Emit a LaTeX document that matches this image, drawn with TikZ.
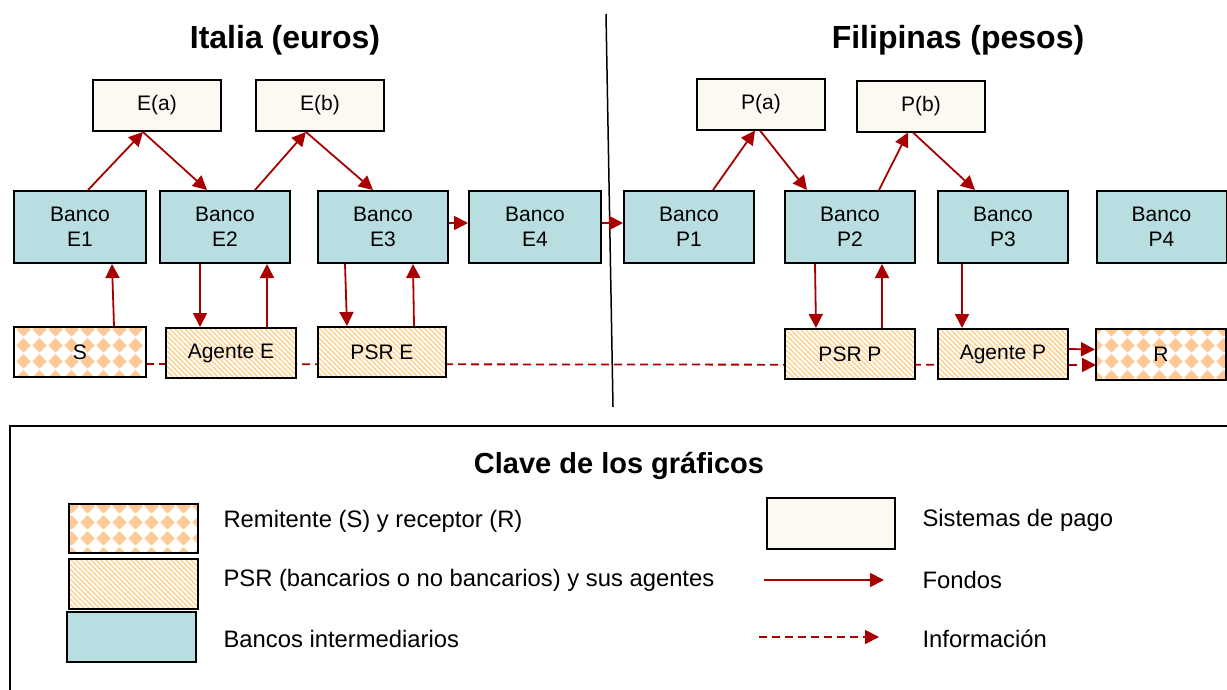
\documentclass[tikz,border=0pt]{standalone}
\usepackage{fontspec}
\setmainfont{Liberation Sans}
\usetikzlibrary{arrows.meta,patterns}

\definecolor{rojo}{RGB}{168,0,0}
\definecolor{azulbanco}{RGB}{184,222,225}
\definecolor{crema}{RGB}{252,249,242}
\definecolor{naranja}{RGB}{255,200,150}
\definecolor{rayado}{RGB}{255,206,135}

%patrones de relleno
\pgfdeclarepatternformonly{rombos}{\pgfpointorigin}{\pgfqpoint{16pt}{16pt}}{\pgfqpoint{16pt}{16pt}}{
	\pgfpathmoveto{\pgfqpoint{8pt}{0.4pt}}
	\pgfpathlineto{\pgfqpoint{15.6pt}{8pt}}
	\pgfpathlineto{\pgfqpoint{8pt}{15.6pt}}
	\pgfpathlineto{\pgfqpoint{0.4pt}{8pt}}
	\pgfpathclose
	\pgfusepath{fill}
}
\pgfdeclarepatternformonly{rayas}{\pgfqpoint{-1pt}{-1pt}}{\pgfqpoint{6pt}{6pt}}{\pgfqpoint{5pt}{5pt}}{
	\pgfsetlinewidth{1.4pt}
	\pgfpathmoveto{\pgfqpoint{-0.5pt}{5.5pt}}
	\pgfpathlineto{\pgfqpoint{5.5pt}{-0.5pt}}
	\pgfusepath{stroke}
}

\tikzset{
	%estilos de las cajas
	caja/.style = {rectangle, draw=black, line width=2pt, inner sep=0pt,
	               font=\fontsize{21}{25}\selectfont, align=center},
	banco/.style = {caja, fill=azulbanco, minimum width=130pt, minimum height=72pt},
	sistema/.style = {caja, fill=crema, minimum width=128pt, minimum height=51pt},
	usuario/.style = {caja, preaction={fill=white}, pattern=rombos, pattern color=naranja,
	                  minimum width=130pt, minimum height=50pt},
	psr/.style = {caja, preaction={fill=white}, pattern=rayas, pattern color=rayado,
	              minimum width=130pt, minimum height=50pt},
	titulo/.style = {font=\fontsize{32}{38}\selectfont\bfseries},
	leyenda/.style = {anchor=west, font=\fontsize{23.8}{28}\selectfont},
	%estilos de las flechas
	fondo/.style = {draw=rojo, line width=1.8pt, -{Triangle[length=14pt,width=14pt]}},
	info/.style = {fondo, dash pattern=on 8pt off 5pt}
}

\begin{document}
\begin{tikzpicture}[x=1pt, y=-1pt]
	\useasboundingbox (0,0) rectangle (1227,689);
	%titulos y separador
	\node[titulo] (it) at (285,40) {Italia (euros)};
	\node[titulo] (fi) at (958,40) {Filipinas (pesos)};
	\coordinate (sep1) at (606,14);
	\coordinate (sep2) at (613,407);
	\draw[line width=1.5pt] (sep1) -- (sep2);

	%sistemas de pago
	\node[sistema] (Ea) at (157,105.5) {E(a)};
	\node[sistema] (Eb) at (320,105.5) {E(b)};
	\node[sistema] (Pa) at (761,104) {P(a)};
	\node[sistema] (Pb) at (921,106) {P(b)};
	%bancos
	\node[banco, minimum width=132pt] (E1) at (80,227) {Banco\\E1};
	\node[banco] (E2) at (225,227) {Banco\\E2};
	\node[banco] (E3) at (383,227) {Banco\\E3};
	\node[banco, minimum width=132pt] (E4) at (535,227) {Banco\\E4};
	\node[banco] (P1) at (689,227) {Banco\\P1};
	\node[banco] (P2) at (850,227) {Banco\\P2};
	\node[banco] (P3) at (1003,227) {Banco\\P3};
	\node[banco] (P4) at (1161.5,227) {Banco\\P4};

	%flechas de informacion (debajo de las cajas)
	\coordinate (iS) at (146,364);
	\coordinate (iR) at (1096,365);
	\draw[info] (iS) -- (iR);

	%remitente, receptor, psr y agentes
	\node[usuario, minimum width=132pt] (S) at (80,352) {S};
	\node[psr] (AgE) at (231,353) {Agente E};
	\node[psr, minimum width=128pt] (PSRE) at (382,352) {PSR E};
	\node[psr] (PSRP) at (850,354) {PSR P};
	\node[psr] (AgP) at (1003,354) {Agente P};
	\node[usuario, minimum height=51pt] (R) at (1161,354.5) {R};

	%flechas de fondos
	\draw[fondo] ([xshift=8pt]E1.north) -- ([xshift=-14pt]Ea.south);
	\draw[fondo] ([xshift=-14pt]Ea.south) -- ([xshift=-18pt]E2.north);
	\draw[fondo] ([xshift=30pt]E2.north) -- ([xshift=-14pt]Eb.south);
	\draw[fondo] ([xshift=-14pt]Eb.south) -- ([xshift=-10pt]E3.north);
	\draw[fondo] ([yshift=4pt]E3.east) -- ([yshift=4pt]E4.west);
	\draw[fondo] ([yshift=4pt]E4.east) -- ([yshift=4pt]P1.west);
	\draw[fondo] ([xshift=24pt]P1.north) -- ([xshift=-6pt]Pa.south);
	\draw[fondo] ([xshift=-1pt]Pa.south) -- ([xshift=-43pt]P2.north);
	\draw[fondo] ([xshift=29pt]P2.north) -- ([xshift=-13pt]Pb.south);
	\draw[fondo] ([xshift=-8pt]Pb.south) -- ([xshift=-28pt]P3.north);

	\draw[fondo] ([xshift=34pt]S.north) -- ([xshift=32pt]E1.south);
	\draw[fondo] ([xshift=-25pt]E2.south) -- ([xshift=-31pt]AgE.north);
	\draw[fondo] ([xshift=36pt]AgE.north) -- ([xshift=42pt]E2.south);
	\draw[fondo] ([xshift=-38pt]E3.south) -- ([xshift=-35pt]PSRE.north);
	\draw[fondo] ([xshift=32pt]PSRE.north) -- ([xshift=30pt]E3.south);
	\draw[fondo] ([xshift=-35pt]P2.south) -- ([xshift=-34pt]PSRP.north);
	\draw[fondo] ([xshift=32pt]PSRP.north) -- ([xshift=32pt]P2.south);
	\draw[fondo] ([xshift=-41pt]P3.south) -- ([xshift=-41pt]AgP.north);
	\draw[fondo] ([yshift=5pt]AgP.east) -- ([yshift=5pt]R.west);

	%leyenda
	\coordinate (ley1) at (10,700);
	\coordinate (ley2) at (1240,426);
	\draw[line width=2.5pt] (ley1) |- (ley2);
	\node[titulo, font=\fontsize{29}{34}\selectfont\bfseries] (clave) at (619,466) {Clave de los gráficos};

	\node[usuario, minimum width=129pt, minimum height=49pt] (lu) at (133.5,528.5) {};
	\node[psr, minimum width=129pt, minimum height=50pt] (lp) at (133.5,584) {};
	\node[banco, minimum width=129pt, minimum height=50pt] (lb) at (131.5,637) {};
	\node[leyenda] (tu) at (220,521) {Remitente (S) y receptor (R)};
	\node[leyenda] (tp) at (220,580) {PSR (bancarios o no bancarios) y sus agentes};
	\node[leyenda] (tb) at (220,639) {Bancos intermediarios};

	\node[sistema] (ls) at (831,523.5) {};
	\coordinate (lf1) at (764,580);
	\coordinate (lf2) at (884,580);
	\coordinate (li1) at (759,637);
	\coordinate (li2) at (879,637);
	\draw[fondo] (lf1) -- (lf2);
	\draw[info] (li1) -- (li2);
	\node[leyenda] (ts) at (919,520) {Sistemas de pago};
	\node[leyenda] (tf) at (919,580) {Fondos};
	\node[leyenda] (ti) at (919,639) {Información};
\end{tikzpicture}
\end{document}
